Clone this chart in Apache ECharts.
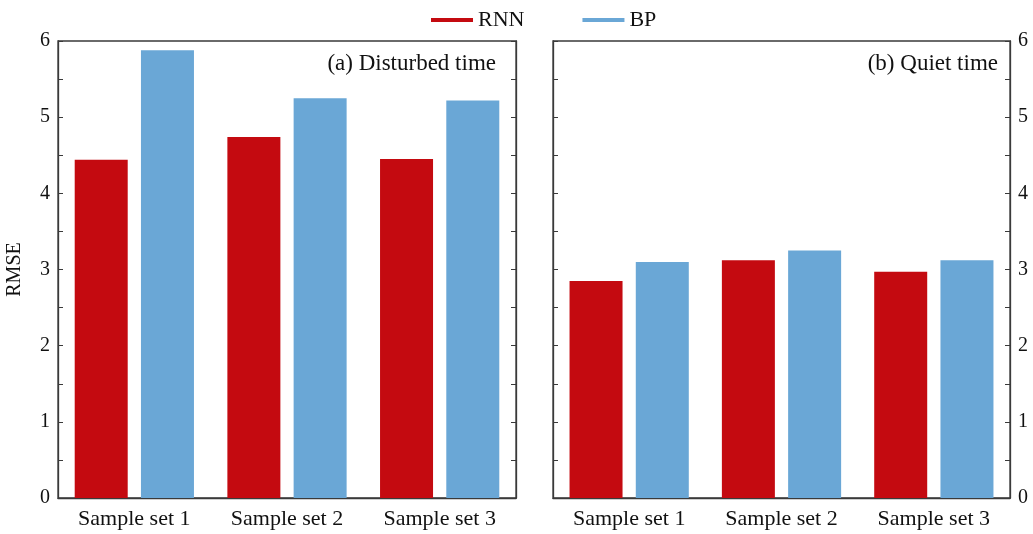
<!DOCTYPE html>
<html><head><meta charset="utf-8">
<script src="https://cdn.jsdelivr.net/npm/echarts@6/dist/echarts.min.js"></script>
<style>html,body{margin:0;padding:0;background:#fff}#c{width:1033px;height:534px}</style>
</head><body><div id="c"></div>
<script>
const categories = ['Sample set 1', 'Sample set 2', 'Sample set 3'];
const seriesNames = ['RNN', 'BP'];
const disturbedRNN = [4.44, 4.74, 4.45];
const disturbedBP = [5.88, 5.25, 5.22];
const quietRNN = [2.85, 3.12, 2.97];
const quietBP = [3.10, 3.25, 3.12];
const panelTitles = ['(a) Disturbed time', '(b) Quiet time'];
const yLabel = 'RMSE';

const FONT = 'Liberation Serif';
const RED = '#c40a10';
const BLUE = '#6aa7d6';
const AX = '#3a3a3a';

function yAx(gridIndex, pos, showLabel, name) {
  return {
    type: 'value', gridIndex, position: pos, min: 0, max: 6, interval: 0.5,
    name: name || '', nameLocation: 'middle', nameGap: 33, nameRotate: 90,
    nameTextStyle: { fontFamily: FONT, fontSize: 20, color: '#111' },
    axisLine: { show: true, lineStyle: { color: AX, width: 1.3 } },
    axisTick: { show: true, inside: true, length: 5, lineStyle: { color: AX } },
    axisLabel: { show: showLabel, fontFamily: FONT, fontSize: 20, color: '#111', margin: 8,
      formatter: v => Number.isInteger(v) ? String(v) : '' },
    splitLine: { show: false }
  };
}
function xAx(gridIndex) {
  return {
    type: 'category', gridIndex, data: categories,
    axisLine: { show: true, lineStyle: { color: AX, width: 1.3 } },
    axisTick: { show: false },
    axisLabel: { fontFamily: FONT, fontSize: 22, color: '#111', margin: 10 }
  };
}
function bar(name, data, color, xi, yi) {
  return { name, type: 'bar', data, xAxisIndex: xi, yAxisIndex: yi,
    barWidth: 53, barGap: '25%', itemStyle: { color }, animation: false };
}

const chart = echarts.init(document.getElementById('c'), null, { renderer: 'canvas' });
chart.setOption({
  animation: false,
  legend: {
    left: 426, top: 4, itemWidth: 42, itemHeight: 4, itemGap: 58, icon: 'rect',
    textStyle: { fontFamily: FONT, fontSize: 22, color: '#111' },
    data: seriesNames
  },
  grid: [
    { left: 58, right: 517, top: 41, bottom: 36, show: true, borderColor: AX, borderWidth: 1.3 },
    { left: 553, right: 23, top: 41, bottom: 36, show: true, borderColor: AX, borderWidth: 1.3 }
  ],
  xAxis: [xAx(0), xAx(1)],
  yAxis: [yAx(0, 'left', true, yLabel), yAx(0, 'right', false), yAx(1, 'left', false), yAx(1, 'right', true)],
  graphic: [
    { type: 'text', right: 1033 - 496, top: 52, style: { text: panelTitles[0], fontFamily: FONT, fontSize: 23, fill: '#111' } },
    { type: 'text', right: 1033 - 998, top: 52, style: { text: panelTitles[1], fontFamily: FONT, fontSize: 23, fill: '#111' } }
  ],
  series: [
    bar(seriesNames[0], disturbedRNN, RED, 0, 0),
    bar(seriesNames[1], disturbedBP, BLUE, 0, 0),
    bar(seriesNames[0], quietRNN, RED, 1, 2),
    bar(seriesNames[1], quietBP, BLUE, 1, 2)
  ]
});
</script></body></html>
